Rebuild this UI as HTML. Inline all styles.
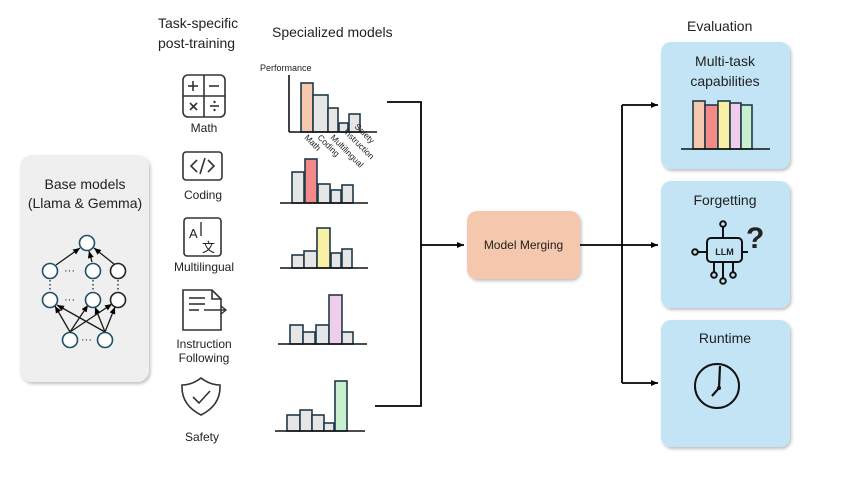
<!DOCTYPE html>
<html><head><meta charset="utf-8"><style>
html,body{margin:0;padding:0;background:#fff;}
svg text{font-family:"Liberation Sans",sans-serif;fill:#222;}
</style></head><body>
<svg width="847" height="477" viewBox="0 0 847 477" xmlns="http://www.w3.org/2000/svg">
<defs>
<marker id="ah" markerWidth="8" markerHeight="8" refX="7" refY="4" orient="auto" markerUnits="userSpaceOnUse"><path d="M0,1 L7,4 L0,7 Z" fill="#000"/></marker>
<filter id="sh" x="-10%" y="-10%" width="125%" height="125%"><feDropShadow dx="1.5" dy="2" stdDeviation="1.5" flood-color="#000" flood-opacity="0.25"/></filter>
</defs>

<!-- headers -->
<text x="158" y="28" font-size="14">Task-specific</text>
<text x="158" y="48" font-size="14">post-training</text>
<text x="272" y="37" font-size="14">Specialized models</text>
<text x="687" y="31" font-size="14">Evaluation</text>

<!-- base models -->
<rect x="20" y="155" width="129" height="227" rx="12" fill="#efefef" filter="url(#sh)"/>
<text x="85" y="189" font-size="14" text-anchor="middle">Base models</text>
<text x="85" y="208" font-size="14" text-anchor="middle">(Llama &amp; Gemma)</text>
<g stroke="#1a1a1a" stroke-width="1.3" fill="none">
<line x1="56" y1="265" x2="80" y2="248" marker-end="url(#ah)"/>
<line x1="92" y1="262" x2="89" y2="251" marker-end="url(#ah)"/>
<line x1="114" y1="264" x2="94" y2="248" marker-end="url(#ah)"/>
<line x1="70" y1="332" x2="55" y2="306" marker-end="url(#ah)"/>
<line x1="70" y1="332" x2="88" y2="305" marker-end="url(#ah)"/>
<line x1="70" y1="332" x2="112" y2="304" marker-end="url(#ah)"/>
<line x1="105" y1="332" x2="57" y2="305" marker-end="url(#ah)"/>
<line x1="105" y1="332" x2="95" y2="307" marker-end="url(#ah)"/>
<line x1="105" y1="332" x2="115" y2="307" marker-end="url(#ah)"/>
</g>
<g stroke="#1f4e66" stroke-width="1.6" fill="#fff">
<circle cx="87" cy="243" r="7.5"/>
<circle cx="50" cy="271" r="7.5"/><circle cx="93" cy="271" r="7.5"/><circle cx="118" cy="271" r="7.5" stroke="#222"/>
<circle cx="50" cy="300" r="7.5"/><circle cx="93" cy="300" r="7.5"/><circle cx="118" cy="300" r="7.5" stroke="#222"/>
<circle cx="70" cy="340" r="7.5"/><circle cx="105" cy="340" r="7.5"/>
</g>
<g font-size="11" fill="#222">
<text x="64" y="274">···</text><text x="64" y="303">···</text><text x="81" y="343">···</text>
</g>
<g stroke="#222" stroke-width="1.3" stroke-dasharray="1.5,2.5">
<line x1="50" y1="280" x2="50" y2="291"/><line x1="93" y1="280" x2="93" y2="291"/><line x1="118" y1="280" x2="118" y2="291"/>
</g>

<!-- task icons -->
<g stroke="#333" stroke-width="1.6" fill="none">
<rect x="183" y="75" width="42" height="42" rx="5"/>
<line x1="204" y1="75" x2="204" y2="117"/><line x1="183" y1="96" x2="225" y2="96"/>
<rect x="183" y="152" width="39" height="28" rx="3"/>
<rect x="184" y="218" width="37" height="38" rx="3"/>
<path d="M183,290 H212 L221,299 V330 H183 Z"/><path d="M212,290 V299 H221"/>
<path d="M201,415 Q181,405 182,385 Q192,385 201,378 Q210,385 220,385 Q221,405 201,415 Z"/>
<path d="M193,397 L199,403 L210,391"/>
<path d="M197,160 L191,166 L197,172"/><path d="M208,160 L214,166 L208,172"/><path d="M205,158 L200,174"/>
</g>
<g stroke="#333" stroke-width="1.6">
<line x1="188" y1="86" x2="198" y2="86"/><line x1="193" y1="81" x2="193" y2="91"/>
<line x1="209" y1="86" x2="219" y2="86"/>
<line x1="190" y1="103" x2="197" y2="110"/><line x1="197" y1="103" x2="190" y2="110"/>
<line x1="210" y1="106" x2="219" y2="106"/>
<line x1="189" y1="298" x2="205" y2="298"/><line x1="189" y1="304" x2="205" y2="304"/><line x1="189" y1="310" x2="199" y2="310"/>
<line x1="204" y1="310" x2="226" y2="310"/>
</g>
<path d="M221,306 L226,310 L221,314" stroke="#333" stroke-width="1.4" fill="none"/>
<circle cx="214.5" cy="102" r="1.2" fill="#333"/><circle cx="214.5" cy="110" r="1.2" fill="#333"/>
<text x="189" y="238" font-size="13" fill="#333">A</text>
<line x1="201" y1="222" x2="201" y2="236" stroke="#333" stroke-width="1.4"/>
<text x="202" y="252" font-size="13" fill="#333" style="font-family:'Noto Sans CJK SC',sans-serif">文</text>
<g font-size="12" text-anchor="middle">
<text x="204" y="132">Math</text>
<text x="203" y="199">Coding</text>
<text x="204" y="271">Multilingual</text>
<text x="204" y="348">Instruction</text>
<text x="204" y="362">Following</text>
<text x="202" y="441">Safety</text>
</g>

<!-- charts -->
<g stroke="#1f3a4a" stroke-width="1.6">
<text x="260" y="71" font-size="9" stroke="none">Performance</text>
<line x1="289" y1="75" x2="289" y2="132" stroke="#111"/>
<rect x="301" y="83" width="12" height="49" fill="#f5c8ad"/>
<rect x="313" y="95" width="15" height="37" fill="#e6e6e6"/>
<rect x="328" y="108" width="10" height="24" fill="#e6e6e6"/>
<rect x="339" y="123" width="9" height="9" fill="#e6e6e6"/>
<rect x="349" y="114" width="11" height="18" fill="#e6e6e6"/>
<line x1="289" y1="132" x2="377" y2="132" stroke="#111"/>

<rect x="292" y="172" width="12" height="31" fill="#e6e6e6"/>
<rect x="305" y="159" width="12" height="44" fill="#f4898a"/>
<rect x="318" y="184" width="12" height="19" fill="#e6e6e6"/>
<rect x="331" y="190" width="10" height="13" fill="#e6e6e6"/>
<rect x="342" y="185" width="11" height="18" fill="#e6e6e6"/>
<line x1="280" y1="203" x2="368" y2="203" stroke="#111"/>

<rect x="292" y="255" width="12" height="13" fill="#e6e6e6"/>
<rect x="304" y="251" width="13" height="17" fill="#e6e6e6"/>
<rect x="317" y="228" width="13" height="40" fill="#f8f1a3"/>
<rect x="331" y="253" width="10" height="15" fill="#e6e6e6"/>
<rect x="342" y="249" width="10" height="19" fill="#e6e6e6"/>
<line x1="280" y1="268" x2="368" y2="268" stroke="#111"/>

<rect x="290" y="325" width="13" height="19" fill="#e6e6e6"/>
<rect x="303" y="332" width="12" height="12" fill="#e6e6e6"/>
<rect x="316" y="325" width="13" height="19" fill="#e6e6e6"/>
<rect x="329" y="295" width="13" height="49" fill="#f0cdea"/>
<rect x="342" y="332" width="11" height="12" fill="#e6e6e6"/>
<line x1="278" y1="344" x2="367" y2="344" stroke="#111"/>

<rect x="287" y="415" width="13" height="16" fill="#e6e6e6"/>
<rect x="300" y="410" width="12" height="21" fill="#e6e6e6"/>
<rect x="312" y="415" width="12" height="16" fill="#e6e6e6"/>
<rect x="324" y="423" width="10" height="8" fill="#e6e6e6"/>
<rect x="335" y="381" width="12" height="50" fill="#c8f0cf"/>
<line x1="275" y1="431" x2="365" y2="431" stroke="#111"/>
</g>
<g font-size="8.5">
<text transform="translate(304,138) rotate(45)">Math</text>
<text transform="translate(317,138) rotate(45)">Coding</text>
<text transform="translate(330,138) rotate(45)">Multilingual</text>
<text transform="translate(343,132) rotate(45)">Instruction</text>
<text transform="translate(354,127) rotate(45)">Safety</text>
</g>

<!-- connectors -->
<g stroke="#000" stroke-width="1.8" fill="none">
<polyline points="387,102 421,102 421,406 375,406"/>
<line x1="421" y1="245" x2="464" y2="245" marker-end="url(#ah)"/>
<line x1="580" y1="245" x2="658" y2="245" marker-end="url(#ah)"/>
<line x1="622" y1="105" x2="622" y2="383"/>
<line x1="622" y1="105" x2="658" y2="105" marker-end="url(#ah)"/>
<line x1="622" y1="383" x2="658" y2="383" marker-end="url(#ah)"/>
</g>

<rect x="467" y="211" width="113" height="68" rx="10" fill="#f5c8ad" filter="url(#sh)"/>
<text x="523.5" y="249" font-size="12" text-anchor="middle">Model Merging</text>

<!-- eval boxes -->
<rect x="661" y="42" width="129" height="127" rx="10" fill="#c2e4f4" filter="url(#sh)"/>
<rect x="661" y="181" width="129" height="127" rx="10" fill="#c2e4f4" filter="url(#sh)"/>
<rect x="661" y="320" width="129" height="127" rx="10" fill="#c2e4f4" filter="url(#sh)"/>
<g font-size="14" text-anchor="middle">
<text x="725" y="66">Multi-task</text>
<text x="725" y="86">capabilities</text>
<text x="725" y="205">Forgetting</text>
<text x="725" y="343">Runtime</text>
</g>
<g stroke="#1f3a4a" stroke-width="1.6">
<rect x="693" y="101" width="12" height="48" fill="#f5c8ad"/>
<rect x="705" y="105" width="13" height="44" fill="#f4898a"/>
<rect x="718" y="101" width="12" height="48" fill="#f8f1a3"/>
<rect x="730" y="103" width="11" height="46" fill="#f0cdea"/>
<rect x="741" y="105" width="11" height="44" fill="#c8f0cf"/>
<line x1="681" y1="149" x2="770" y2="149" stroke="#111"/>
</g>
<!-- LLM icon -->
<g stroke="#111" stroke-width="2" fill="none">
<rect x="707" y="238" width="35" height="24" rx="4"/>
<line x1="723" y1="227" x2="723" y2="238"/>
<line x1="698" y1="252" x2="707" y2="252"/>
<line x1="742" y1="252" x2="748" y2="252"/>
<line x1="714" y1="262" x2="714" y2="272"/><line x1="723" y1="262" x2="723" y2="278"/><line x1="733" y1="262" x2="733" y2="272"/>
<circle cx="723" cy="224" r="2.8"/><circle cx="695" cy="252" r="2.8"/>
<circle cx="714" cy="275" r="2.8"/><circle cx="723" cy="281" r="2.8"/><circle cx="733" cy="275" r="2.8"/>
</g>
<text x="724.5" y="255" font-size="9" font-weight="bold" text-anchor="middle" fill="#111">LLM</text>
<text x="746" y="248" font-size="30" font-weight="bold" fill="#111">?</text>
<!-- clock -->
<circle cx="717" cy="386" r="22" stroke="#111" stroke-width="2" fill="none"/>
<polyline points="720,366 719,388 712,396" stroke="#111" stroke-width="2.2" fill="none"/>
<circle cx="719" cy="388" r="2" fill="#111"/>
</svg>
</body></html>
